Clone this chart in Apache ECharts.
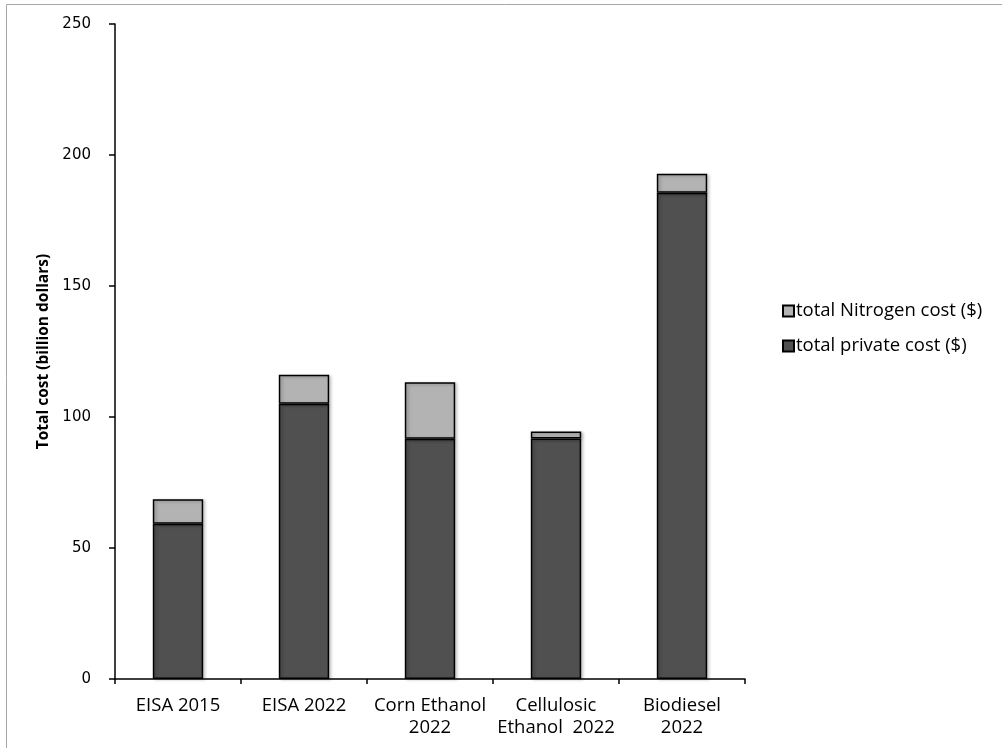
<!DOCTYPE html>
<html>
<head>
<meta charset="utf-8">
<script src="https://cdn.jsdelivr.net/npm/echarts@6/dist/echarts.min.js"></script>
<style>
  html, body { margin: 0; padding: 0; background: #fff; }
  #chart { width: 1002px; height: 748px; }
</style>
</head>
<body>
<div id="chart"></div>
<script>
// Cost scenarios (billion dollars)
const categories = ['EISA 2015', 'EISA 2022', 'Corn Ethanol\n2022', 'Cellulosic\nEthanol  2022', 'Biodiesel\n2022'];
const privateCost = [59.3, 105.1, 91.7, 91.8, 185.6];
const nitrogenCost = [9.3, 11.0, 21.6, 2.7, 7.2];
const yTicks = [0, 50, 100, 150, 200, 250];

const chart = echarts.init(document.getElementById('chart'), null, { renderer: 'canvas' });

const barStyle = (color) => ({
  color: color,
  borderColor: '#000',
  borderWidth: 1.5,
  shadowColor: 'rgba(0,0,0,0.25)',
  shadowBlur: 3,
  shadowOffsetX: 2,
  shadowOffsetY: 1
});

chart.setOption({
  animation: false,
  backgroundColor: '#fff',
  graphic: [{
    type: 'rect',
    shape: { x: 6.5, y: 4.5, width: 1010, height: 760 },
    style: { fill: 'none', stroke: '#a6a6a6', lineWidth: 1 },
    z: -1
  }],
  grid: { left: 115, right: 257, top: 24, bottom: 69 },
  legend: {
    orient: 'vertical',
    left: 777,
    top: 296,
    itemGap: 15,
    itemWidth: 11,
    itemHeight: 11,
    icon: 'rect',
    textStyle: { fontFamily: 'Open Sans', fontSize: 18.5, lineHeight: 20, color: '#000', padding: [0, 0, 0, -3] },
    data: ['total Nitrogen cost ($)', 'total private cost ($)']
  },
  xAxis: {
    type: 'category',
    data: categories,
    axisLine: { lineStyle: { color: '#000', width: 1.5 } },
    axisTick: { show: true, length: 5, alignWithLabel: false, lineStyle: { color: '#000', width: 1.5 } },
    axisLabel: {
      fontFamily: 'Open Sans', fontSize: 18.5, color: '#000',
      margin: 16, lineHeight: 22, interval: 0
    }
  },
  yAxis: {
    type: 'value',
    min: 0, max: 250, interval: 50,
    name: 'Total cost (billion dollars)',
    nameLocation: 'middle',
    nameGap: 62,
    nameTextStyle: { fontFamily: 'Open Sans', fontSize: 15.5, fontWeight: 'bold', color: '#000' },
    axisLine: { show: true, lineStyle: { color: '#000', width: 1.5 } },
    axisTick: { show: true, length: 6, lineStyle: { color: '#000', width: 1.5 } },
    splitLine: { show: false },
    axisLabel: {
      fontFamily: 'DejaVu Sans', fontSize: 15, color: '#000', margin: 24,
      formatter: (v) => (yTicks.includes(v) ? String(v) : '')
    }
  },
  series: [
    {
      name: 'total private cost ($)',
      type: 'bar',
      stack: 'cost',
      barWidth: '40%',
      data: privateCost,
      itemStyle: barStyle('#505050')
    },
    {
      name: 'total Nitrogen cost ($)',
      type: 'bar',
      stack: 'cost',
      barWidth: '40%',
      data: nitrogenCost,
      itemStyle: barStyle('#b3b3b3')
    }
  ]
});
</script>
</body>
</html>
